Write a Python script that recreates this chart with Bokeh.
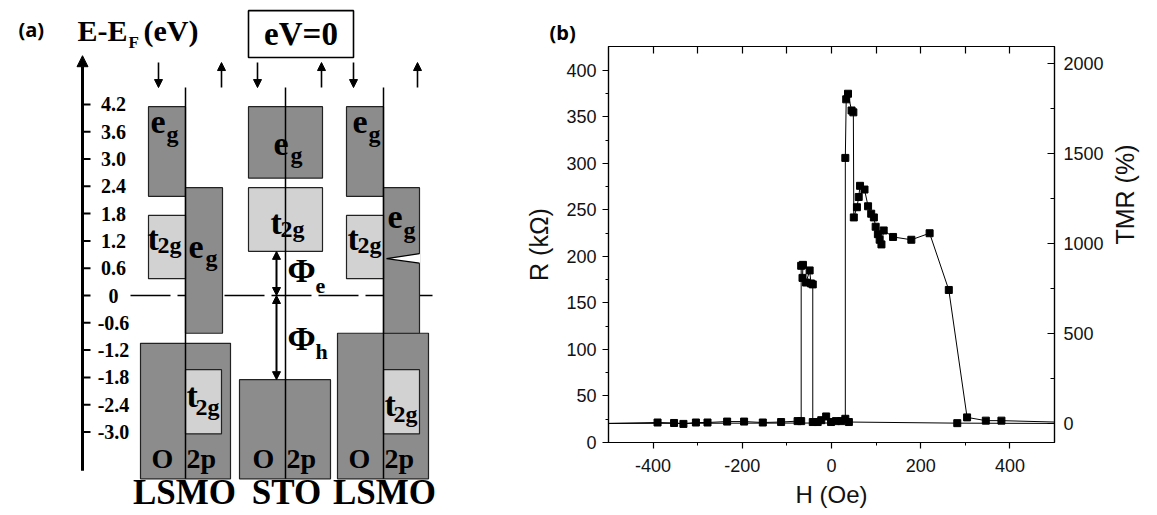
import numpy as np
from bokeh.plotting import figure
from bokeh.models import Range1d, Arrow, NormalHead, LinearAxis, FixedTicker, Title
from bokeh.layouts import row, column
from bokeh.core.properties import value
from bokeh.embed import file_html
from bokeh.resources import INLINE

# ---------------- panel (a) data : band edges in eV ([bottom, top]) ----------------
energy_ticks = [4.2, 3.6, 3.0, 2.4, 1.8, 1.2, 0.6, 0.0, -0.6, -1.2, -1.8, -2.4, -3.0]
energy_tick_labels = ["4.2", "3.6", "3.0", "2.4", "1.8", "1.2", "0.6", "0",
                      "-0.6", "-1.2", "-1.8", "-2.4", "-3.0"]
lsmo_eg_down = [2.18, 4.15]
lsmo_t2g_down = [0.37, 1.76]
lsmo_eg_up = [-0.83, 2.37]
lsmo_t2g_up = [-3.04, -1.63]
lsmo_o2p_left = [-4.03, -1.05]
lsmo_o2p_right = [-4.03, -0.83]
sto_eg = [2.58, 4.15]
sto_t2g = [0.97, 2.37]
sto_o2p = [-4.03, -1.85]
notch_e = [0.92, 0.81, 0.71]
fermi = 0.0

# ---------------- panel (b) data : R (kOhm) vs H (Oe) ----------------
H_up = [-500, 31, 31, 33, 37, 45, 49, 50, 57, 61, 64, 74, 82, 89, 95, 99, 104, 108,
        112, 117, 138, 179, 220, 263, 304, 346, 381, 500]
R_up = [20.5, 21, 306, 369, 375, 357, 355, 242, 253, 264, 276, 272, 254, 246, 242, 232,
        224, 218, 213, 228, 221, 218, 225, 164, 27, 23.5, 23.5, 22]
H_down = [500, 282, 39, 31, 22, 10, -1, -12, -23, -31, -42, -42, -46, -49, -57, -65,
          -64, -68, -68, -76, -113, -154, -196, -234, -278, -304, -332, -353, -390, -500]
R_down = [20.5, 20.8, 22, 25.5, 23, 23, 22, 28, 24, 22, 22, 170, 171, 185, 172, 177,
          191, 190, 23, 23, 22, 21.5, 22.5, 22.5, 21.5, 21.5, 20, 21, 21.5, 20.5]
x_ticks = [-400, -200, 0, 200, 400]
x_tick_labels = ["-400", "-200", "0", "200", "400"]
x_minor = [-300, -100, 100, 300]
top_ticks = [-400, -300, -200, -100, 0, 100, 200, 300, 400]
r_ticks = [0, 50, 100, 150, 200, 250, 300, 350, 400]
r_minor = [25, 75, 125, 175, 225, 275, 325, 375]
tmr_ticks = [0, 500, 1000, 1500, 2000]
tmr_minor = [250, 750, 1250, 1750]

DARK = "#8c8c8c"
LIGHT = "#d2d2d2"
SERIF = "Liberation Serif"
SANS = "Liberation Sans"

# ================= panel (a) =================
PX_PER_EV = 45.5
E0_Y = 295  # pixel row of E_F
pa = figure(width=478, height=515, x_range=Range1d(0, 478),
            y_range=Range1d((E0_Y - 515) / PX_PER_EV, E0_Y / PX_PER_EV),
            output_backend="svg", toolbar_location=None, title=None,
            min_border_left=0, min_border_right=0, min_border_top=0, min_border_bottom=0)
pa.axis.visible = False
pa.grid.visible = False
pa.outline_line_color = None


def txt(fig, x, y, s, size, font=SERIF, style="bold", align="left", k=0.34):
    # y is the text baseline (eV); anchor on the middle of the glyph box
    ym = y + k * size / PX_PER_EV
    fig.text(x=[x], y=[ym], text=[s], text_font=value(font), text_font_size=f"{size}px",
             text_font_style=style, text_align=align, text_baseline="middle",
             text_color="black")


# column layout (pixel-like x units)
xL, xS, xR = 185, 285, 383
W = 37

# Fermi level dashed line
pa.line(x=[130, 432], y=[fermi, fermi], line_color="black", line_width=1.6, line_dash="40 7")

quad_kw = dict(line_color="#222222", line_width=1.2)
# O 2p bands
pa.quad(left=[xL - 45, xS - 46, xR - 46], right=[xL + 45, xS + 45, xR + 45],
        bottom=[lsmo_o2p_left[0], sto_o2p[0], lsmo_o2p_right[0]],
        top=[lsmo_o2p_left[1], sto_o2p[1], lsmo_o2p_right[1]], fill_color=DARK, **quad_kw)
# e_g bands (dark)
pa.quad(left=[xL - W, xL, xR - W, xR, xS - W], right=[xL, xL + W, xR, xR + W - 1, xS + W],
        bottom=[lsmo_eg_down[0], lsmo_eg_up[0], lsmo_eg_down[0], lsmo_eg_up[0], sto_eg[0]],
        top=[lsmo_eg_down[1], lsmo_eg_up[1], lsmo_eg_down[1], lsmo_eg_up[1], sto_eg[1]],
        fill_color=DARK, **quad_kw)
# t2g bands (light)
pa.quad(left=[xL - W, xL, xR - W, xR, xS - W], right=[xL, xL + W - 1, xR, xR + W - 1, xS + W],
        bottom=[lsmo_t2g_down[0], lsmo_t2g_up[0], lsmo_t2g_down[0], lsmo_t2g_up[0], sto_t2g[0]],
        top=[lsmo_t2g_down[1], lsmo_t2g_up[1], lsmo_t2g_down[1], lsmo_t2g_up[1], sto_t2g[1]],
        fill_color=LIGHT, **quad_kw)
# notch in right LSMO e_g (spin up)
pa.patch(x=[xR + W - 0.5, xR + 3, xR + W - 0.5], y=notch_e, fill_color="white", line_color=None)
pa.line(x=[xR + W - 1, xR + 3, xR + W - 1], y=notch_e, line_color="black", line_width=1.2)

# interface / spin dividers
top_div = 4.57
pa.segment(x0=[xL, xS, xR], y0=[top_div] * 3, x1=[xL, xS, xR], y1=[-4.03] * 3,
           line_color="black", line_width=1.5)

# energy axis
pa.add_layout(Arrow(end=NormalHead(size=11, fill_color="black", line_color="black"),
                    x_start=82, y_start=-3.85, x_end=82, y_end=5.27,
                    line_color="black", line_width=3))
pa.segment(x0=[82] * len(energy_ticks), y0=energy_ticks, x1=[90] * len(energy_ticks),
           y1=energy_ticks, line_color="black", line_width=2)
pa.text(x=[113] * len(energy_ticks), y=energy_ticks, text=energy_tick_labels,
        text_font=value(SERIF), text_font_size="20px", text_font_style="bold",
        text_align="center", text_baseline="middle", text_color="black")

# spin arrows
for x0 in (158, 257, 353):
    pa.add_layout(Arrow(end=NormalHead(size=8, fill_color="black", line_color="black"),
                        x_start=x0, y_start=5.12, x_end=x0, y_end=4.57,
                        line_color="black", line_width=1.6))
for x0 in (221, 321, 417):
    pa.add_layout(Arrow(end=NormalHead(size=8, fill_color="black", line_color="black"),
                        x_start=x0, y_start=4.57, x_end=x0, y_end=5.12,
                        line_color="black", line_width=1.6))

# barrier arrows
for ys, ye in ((sto_t2g[0], fermi), (fermi, sto_o2p[1])):
    pa.add_layout(Arrow(start=NormalHead(size=8, fill_color="black", line_color="black"),
                        end=NormalHead(size=8, fill_color="black", line_color="black"),
                        x_start=276, y_start=ys, x_end=276, y_end=ye,
                        line_color="black", line_width=2))

# eV=0 box
pa.quad(left=[248], right=[353], bottom=[5.23], top=[6.26], fill_color="white",
        line_color="black", line_width=1.6)
txt(pa, 300.5, 5.49, "eV=0", 33, align="center")

# titles
txt(pa, 18, 5.67, "(a)", 20, font="Open Sans", k=0.38)
txt(pa, 77, 5.60, "E-E", 30)
txt(pa, 128, 5.44, "F", 17)
txt(pa, 143, 5.60, "(eV)", 30)

# band labels
for (ex, ey), (gx, gy) in (((150, 3.56), (166, 3.36)),
                           ((352, 3.56), (368, 3.36)),
                           ((273, 3.08), (290, 2.90)),
                           ((188, 0.82), (205, 0.64)),
                           ((387, 1.47), (403, 1.27))):
    txt(pa, ex, ey, "e", 34)
    txt(pa, gx, gy, "g", 24)
for (tx, ty), (sx, sy) in (((147, 1.0), (157, 0.93)), ((347, 1.0), (357, 0.93)),
                           ((270, 1.36), (280, 1.28)), ((186, -2.46), (195, -2.62)),
                           ((384, -2.66), (393, -2.78))):
    txt(pa, tx, ty, "t", 34)
    txt(pa, sx, sy, "2g", 24)
for ox, px in ((151, 186), (252, 286), (348, 384)):
    txt(pa, ox, -3.80, "O", 28)
    txt(pa, px, -3.80, "2p", 28)
txt(pa, 287, 0.29, "Φ", 34)
txt(pa, 315, 0.04, "e", 22)
txt(pa, 287, -1.21, "Φ", 34)
txt(pa, 315, -1.40, "h", 22)
for cx, s in ((184, "LSMO"), (286, "STO"), (384, "LSMO")):
    txt(pa, cx, -4.59, s, 35, align="center")

# ================= panel (b) =================
pb = figure(width=679, height=515, x_range=Range1d(-500, 500), y_range=Range1d(0, 425.8),
            output_backend="svg", toolbar_location=None,
            title=Title(text="(b)", align="left", offset=-59, text_font="Open Sans",
                        text_font_style="bold", text_font_size="20px", text_color="black",
                        standoff=2),
            min_border_left=130, min_border_right=103, min_border_top=46, min_border_bottom=73)
pb.extra_y_ranges = {"tmr": Range1d(-105.6, 2094)}
pb.grid.visible = False
pb.outline_line_color = "black"
pb.outline_line_width = 1.2


def style_axis(ax):
    ax.axis_line_color = "black"
    ax.axis_line_width = 1.2
    ax.major_tick_line_color = "black"
    ax.minor_tick_line_color = "black"
    ax.major_tick_line_width = 1.2
    ax.major_label_text_font = SANS
    ax.major_label_text_font_size = "18px"
    ax.major_label_text_color = "#111111"
    ax.axis_label_text_font = SANS
    ax.axis_label_text_font_style = "normal"
    ax.axis_label_text_color = "#111111"


xa = pb.xaxis[0]
style_axis(xa)
xa.ticker = FixedTicker(ticks=x_ticks, minor_ticks=x_minor)
xa.major_label_overrides = dict(zip(x_ticks, x_tick_labels))
xa.major_tick_out, xa.major_tick_in = 6, 0
xa.minor_tick_out, xa.minor_tick_in = 3, 0
xa.major_label_standoff = 10
xa.axis_label = "H (Oe)"
xa.axis_label_text_font_size = "24px"
xa.axis_label_standoff = 6

ya = pb.yaxis[0]
style_axis(ya)
ya.ticker = FixedTicker(ticks=r_ticks, minor_ticks=r_minor)
ya.major_tick_out, ya.major_tick_in = 6, 0
ya.minor_tick_out, ya.minor_tick_in = 3, 0
ya.major_label_standoff = 6
ya.axis_label = "R (kΩ)"
ya.axis_label_text_font_size = "25px"
ya.axis_label_standoff = 10

top = LinearAxis(ticker=FixedTicker(ticks=top_ticks))
style_axis(top)
top.major_tick_in, top.major_tick_out = 7, 0
top.minor_tick_in, top.minor_tick_out = 0, 0
top.major_label_overrides = {t: "" for t in top_ticks}
top.major_label_standoff = 0
pb.add_layout(top, "above")

ra = LinearAxis(y_range_name="tmr", ticker=FixedTicker(ticks=tmr_ticks, minor_ticks=tmr_minor))
style_axis(ra)
ra.major_tick_in, ra.major_tick_out = 7, 0
ra.minor_tick_in, ra.minor_tick_out = 4, 0
ra.major_label_standoff = 9
ra.axis_label = "TMR (%)"
ra.axis_label_text_font_size = "25px"
ra.axis_label_standoff = 18
try:
    ra.axis_label_orientation = np.pi / 2
except Exception:
    pass
pb.add_layout(ra, "right")

pb.line(H_up, R_up, line_color="black", line_width=1)
pb.line(H_down, R_down, line_color="black", line_width=1)
pb.scatter(H_up[2:-1], R_up[2:-1], marker="square", size=7, color="black")
pb.scatter(H_down[1:-1], R_down[1:-1], marker="square", size=7, color="black")

layout = row(column(pa), column(pb))
open("out.html", "w").write(file_html(layout, INLINE))
